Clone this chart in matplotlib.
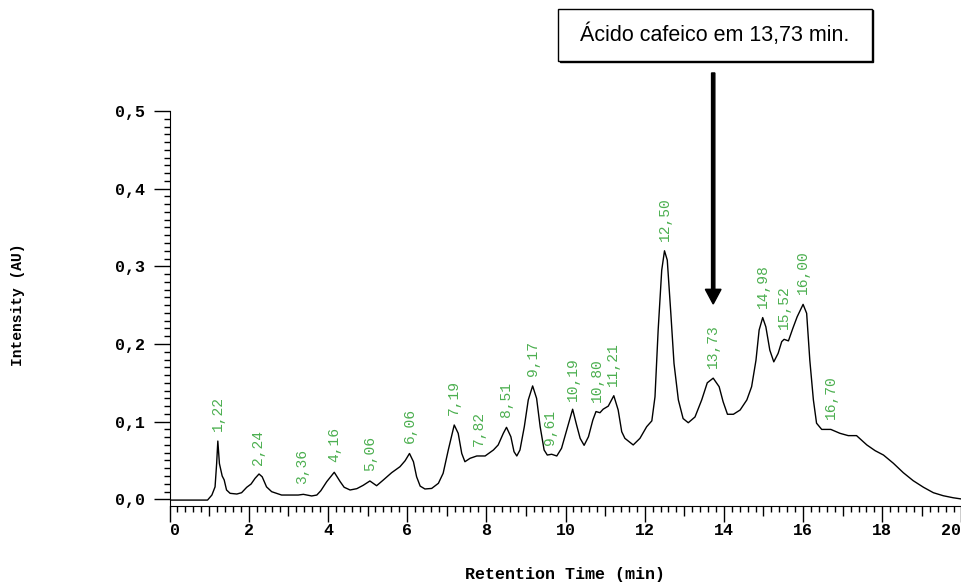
import numpy as np
import matplotlib
matplotlib.use("Agg")
import matplotlib.pyplot as plt
from matplotlib.patches import Rectangle, FancyArrow

# chromatogram trace (min, AU)
time = [
    0.00, 0.50, 0.96, 1.07, 1.15, 1.19, 1.22, 1.26, 1.33, 1.38, 1.44, 1.53,
    1.70, 1.82, 1.95, 2.06, 2.16, 2.26, 2.34, 2.45, 2.58, 2.83, 3.25, 3.38,
    3.59, 3.72, 3.82, 3.97, 4.16, 4.31, 4.41, 4.56, 4.73, 4.89, 5.06, 5.23,
    5.40, 5.61, 5.82, 5.95, 6.06, 6.16, 6.24, 6.33, 6.45, 6.62, 6.79, 6.91,
    7.04, 7.19, 7.29, 7.38, 7.46, 7.59, 7.76, 7.97, 8.18, 8.30, 8.43, 8.51,
    8.62, 8.70, 8.77, 8.85, 8.96, 9.06, 9.17, 9.27, 9.36, 9.46, 9.54, 9.65,
    9.78, 9.90, 10.03, 10.18, 10.28, 10.37, 10.47, 10.58, 10.69, 10.77, 10.87,
    10.95, 11.08, 11.22, 11.33, 11.42, 11.50, 11.71, 11.88, 12.05, 12.18,
    12.26, 12.34, 12.43, 12.50, 12.57, 12.66, 12.74, 12.85, 12.97, 13.10,
    13.27, 13.44, 13.58, 13.73, 13.88, 13.98, 14.09, 14.24, 14.41, 14.58,
    14.70, 14.81, 14.89, 14.98, 15.06, 15.16, 15.26, 15.37, 15.46, 15.52,
    15.63, 15.74, 15.85, 16.00, 16.09, 16.17, 16.26, 16.34, 16.47, 16.70,
    16.93, 17.14, 17.35, 17.61, 17.82, 18.03, 18.28, 18.53, 18.78, 19.04,
    19.29, 19.54, 19.79, 20.00,
]
intensity = [
    -0.001, -0.001, -0.001, 0.0055, 0.016, 0.046, 0.075, 0.046, 0.030, 0.025,
    0.012, 0.0077, 0.0068, 0.0085, 0.0155, 0.0197, 0.027, 0.0326, 0.029,
    0.016, 0.0098, 0.0055, 0.0055, 0.0064, 0.0043, 0.0055, 0.011, 0.0227,
    0.0348, 0.0227, 0.0155, 0.012, 0.0137, 0.018, 0.0236, 0.0175, 0.0249,
    0.0343, 0.042, 0.0497, 0.059, 0.0484, 0.029, 0.017, 0.0133, 0.014,
    0.0206, 0.0335, 0.0635, 0.0957, 0.085, 0.059, 0.0484, 0.0528, 0.0558,
    0.0558, 0.0635, 0.070, 0.085, 0.0927, 0.0806, 0.0613, 0.0558, 0.0635,
    0.0935, 0.128, 0.146, 0.130, 0.0935, 0.0635, 0.057, 0.058, 0.0558,
    0.0657, 0.0892, 0.116, 0.0957, 0.0785, 0.0695, 0.0806, 0.102, 0.113,
    0.1115, 0.116, 0.120, 0.1334, 0.115, 0.087, 0.0785, 0.070, 0.0785,
    0.0935, 0.101, 0.132, 0.218, 0.295, 0.320, 0.308, 0.2395, 0.175, 0.128,
    0.104, 0.0986, 0.106, 0.128, 0.150, 0.156, 0.145, 0.1257, 0.1095,
    0.1095, 0.115, 0.128, 0.145, 0.179, 0.218, 0.234, 0.222, 0.192, 0.177,
    0.188, 0.203, 0.206, 0.204, 0.220, 0.235, 0.251, 0.2395, 0.179, 0.128,
    0.098, 0.090, 0.090, 0.085, 0.082, 0.082, 0.070, 0.0626, 0.057, 0.0464,
    0.0343, 0.024, 0.0155, 0.0085, 0.0046, 0.002, 0.0004,
]

# peak labels
peak_times = [1.22, 2.24, 3.36, 4.16, 5.06, 6.06, 7.19, 7.82, 8.51, 9.17,
              9.61, 10.19, 10.80, 11.21, 12.50, 13.73, 14.98, 15.52, 16.00,
              16.70]
peak_labels = ["1,22", "2,24", "3,36", "4,16", "5,06", "6,06", "7,19",
               "7,82", "8,51", "9,17", "9,61", "10,19", "10,80", "11,21",
               "12,50", "13,73", "14,98", "15,52", "16,00", "16,70"]

x_ticks = [0, 2, 4, 6, 8, 10, 12, 14, 16, 18, 20]
x_tick_labels = ["0", "2", "4", "6", "8", "10", "12", "14", "16", "18", "20"]
y_ticks = [0.0, 0.1, 0.2, 0.3, 0.4, 0.5]
y_tick_labels = ["0,0", "0,1", "0,2", "0,3", "0,4", "0,5"]

note_text = "Ácido cafeico em 13,73 min."
note_time = 13.73

mono = "Liberation Mono"
green = "#4caf50"

fig = plt.figure(figsize=(9.61, 5.83), dpi=100)
ax = fig.add_axes([0.1764, 0.1329, 0.8241, 0.6767])

ax.plot(time, intensity, color="black", linewidth=1.0)

ax.set_xlim(0, 20)
ax.set_ylim(-0.008, 0.5)

ax.spines["top"].set_visible(False)
ax.spines["right"].set_visible(False)

# x ticks: every minute, even ones longer, minor every 0.2
ax.set_xticks(np.arange(0, 21, 1))
ax.set_xticks(np.arange(0, 20.01, 0.2), minor=True)
ax.set_xticklabels([x_tick_labels[i // 2] if i % 2 == 0 else "" for i in range(21)],
                   fontfamily=mono, fontweight="bold", fontsize=12)
ax.tick_params(axis="x", which="major", direction="out", length=7.5, width=1, pad=5)
ax.tick_params(axis="x", which="minor", direction="out", length=4.3, width=1)
for i, tick in enumerate(ax.xaxis.get_major_ticks()):
    if i % 2 == 0:
        tick.tick1line.set_markersize(11.5)
xt = ax.get_xticklabels()
xt[0].set_horizontalalignment("left")
xt[20].set_horizontalalignment("right")

ax.set_yticks(y_ticks)
ax.set_yticks(np.arange(0, 0.501, 0.01), minor=True)
ax.set_yticklabels(y_tick_labels, fontfamily=mono, fontweight="bold", fontsize=12)
ax.tick_params(axis="y", which="major", direction="out", length=11.5, width=1, pad=6)
ax.tick_params(axis="y", which="minor", direction="out", length=4.3, width=1)

# green retention time labels above the trace
for t, lab in zip(peak_times, peak_labels):
    y = np.interp(t, time, intensity)
    ax.annotate(lab, xy=(t, y), xytext=(0, 10), textcoords="offset pixels",
                rotation=90, ha="center", va="bottom", color=green,
                fontfamily=mono, fontsize=10.5, annotation_clip=False)

fig.text(18 / 961, 0.477, "Intensity (AU)", rotation=90, ha="center", va="center",
         fontfamily=mono, fontweight="bold", fontsize=10.5)
fig.text(565 / 961, 9 / 583, "Retention Time (min)", ha="center", va="center",
         fontfamily=mono, fontweight="bold", fontsize=12)

# caffeic acid box + arrow
box_x0, box_x1 = 9.818, 17.73
box_y0, box_y1 = 0.5648, 0.6316
shadow = Rectangle((box_x0 + 0.04, box_y0 - 0.002), box_x1 - box_x0, box_y1 - box_y0,
                   facecolor="black", edgecolor="black", lw=1, clip_on=False, zorder=4)
box = Rectangle((box_x0, box_y0), box_x1 - box_x0, box_y1 - box_y0,
                facecolor="white", edgecolor="black", lw=1, clip_on=False, zorder=5)
ax.add_patch(shadow)
ax.add_patch(box)
ax.text((box_x0 + box_x1) / 2, (box_y0 + box_y1) / 2, note_text, ha="center",
        va="center", fontfamily="Liberation Sans", fontsize=15.5, zorder=6,
        clip_on=False)

arrow = FancyArrow(note_time, 0.549, 0, 0.2515 - 0.549, width=0.083,
                   head_width=0.396, head_length=0.0189, length_includes_head=True,
                   color="black", clip_on=False, zorder=5)
ax.add_patch(arrow)

plt.savefig("out.png", dpi=100)
